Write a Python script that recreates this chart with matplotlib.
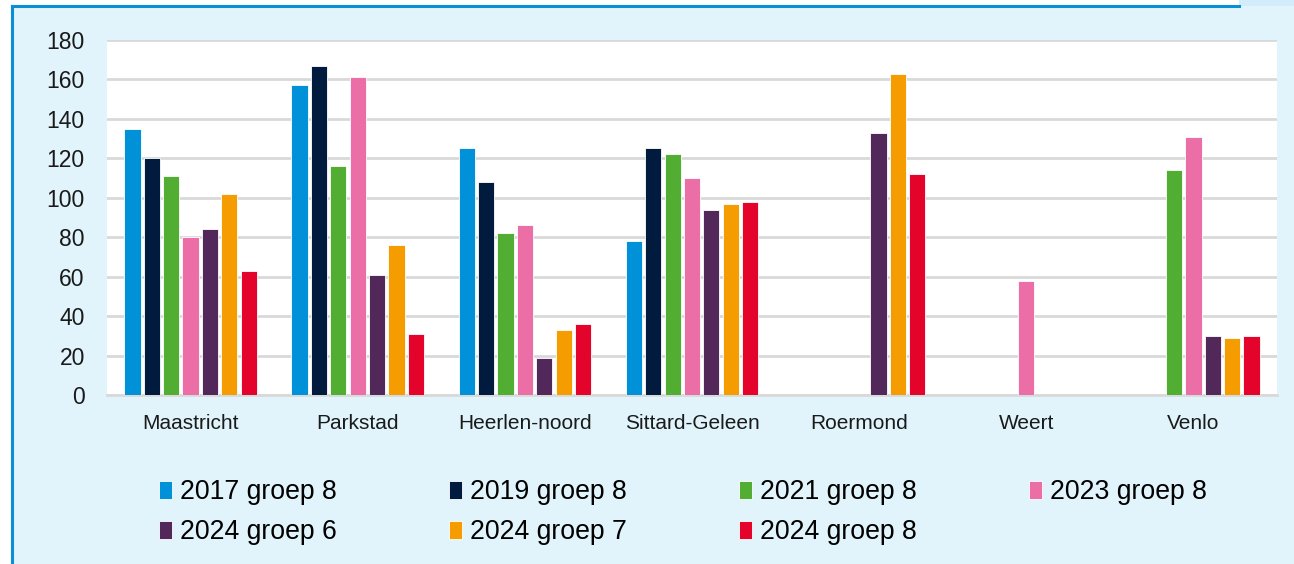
import numpy as np
import matplotlib
matplotlib.use('Agg')
import matplotlib.pyplot as plt
from matplotlib.patches import Rectangle
from matplotlib.lines import Line2D

plt.rcParams['font.family'] = ['Liberation Sans', 'DejaVu Sans']

# ── Data ──
regions = ['Maastricht', 'Parkstad', 'Heerlen-noord', 'Sittard-Geleen',
           'Roermond', 'Weert', 'Venlo']
series = ['2017 groep 8', '2019 groep 8', '2021 groep 8', '2023 groep 8',
          '2024 groep 6', '2024 groep 7', '2024 groep 8']
nan = np.nan
v2017_g8 = [135, 157, 125, 78, nan, nan, nan]
v2019_g8 = [120, 167, 108, 125, nan, nan, nan]
v2021_g8 = [111, 116, 82, 122, nan, nan, 114]
v2023_g8 = [80, 161, 86, 110, nan, 58, 131]
v2024_g6 = [84, 61, 19, 94, 133, nan, 30]
v2024_g7 = [102, 76, 33, 97, 163, nan, 29]
v2024_g8 = [63, 31, 36, 98, 112, nan, 30]
values = [v2017_g8, v2019_g8, v2021_g8, v2023_g8, v2024_g6, v2024_g7, v2024_g8]
colors = ['#0091d9', '#001b3d', '#52ae32', '#ec6ea6', '#52285a', '#f59c00', '#e4032b']

BG = '#e1f4fc'

fig = plt.figure(figsize=(12.94, 5.64), dpi=100)
fig.patch.set_facecolor('white')

# light blue panel with blue border on left/top
fig.patches.append(Rectangle((12 / 1294, 0), 1 - 12 / 1294, 1 - 6 / 564,
                             transform=fig.transFigure, facecolor=BG,
                             edgecolor='none', zorder=-10))
fig.patches.append(Rectangle((1239 / 1294, 1 - 6 / 564), 1 - 1239 / 1294, 6 / 564,
                             transform=fig.transFigure, facecolor='#d3ecf9',
                             edgecolor='none', zorder=-10))
fig.add_artist(Line2D([12 / 1294, 12 / 1294], [0, 1 - 6 / 564],
                      transform=fig.transFigure, color='#0a8fd6', lw=2.2, zorder=-5))
fig.add_artist(Line2D([12 / 1294, 1239 / 1294], [1 - 6 / 564, 1 - 6 / 564],
                      transform=fig.transFigure, color='#0a8fd6', lw=2.2, zorder=-5))

ax = fig.add_axes([107 / 1294, 1 - 395 / 564, 1170 / 1294, 355 / 564])
ax.set_zorder(5)
ax.set_facecolor('white')

x = np.arange(len(regions))
step = 0.116
width = 0.097
for i, (name, vals, c) in enumerate(zip(series, values, colors)):
    ax.bar(x + (i - 3) * step, vals, width, color=c, label=name,
           edgecolor='white', linewidth=0.6, zorder=3)

ax.set_xlim(-0.5, len(regions) - 0.5)
ax.set_ylim(0, 180)
ax.set_yticks(np.arange(0, 181, 20))
ax.grid(True, axis='y', color='#d9d9d9', linewidth=2, zorder=0)
ax.set_axisbelow(True)
for s in ['top', 'right', 'left']:
    ax.spines[s].set_visible(False)
ax.spines['bottom'].set_color('#d9d9d9')
ax.spines['bottom'].set_linewidth(2)
ax.tick_params(axis='y', length=0, labelsize=16.5, pad=16, colors='#1a1a1a')
ax.tick_params(axis='x', length=0, labelsize=15, pad=14, colors='#1a1a1a')
ax.set_xticks(x)
ax.set_xticklabels(regions)

# legend: row-wise order in 4 columns
handles, labels = ax.get_legend_handles_labels()
order = [0, 4, 1, 5, 2, 6, 3]
leg = fig.legend([handles[k] for k in order], [labels[k] for k in order],
                 ncol=4, loc='upper left', bbox_to_anchor=(135 / 1294, 1 - 455 / 564),
                 frameon=False, fontsize=19.2, handlelength=0.5, handleheight=0.65,
                 handletextpad=0.29, columnspacing=4.2, labelspacing=0.54)

fig.savefig('out.png', dpi=100, facecolor=fig.get_facecolor())
